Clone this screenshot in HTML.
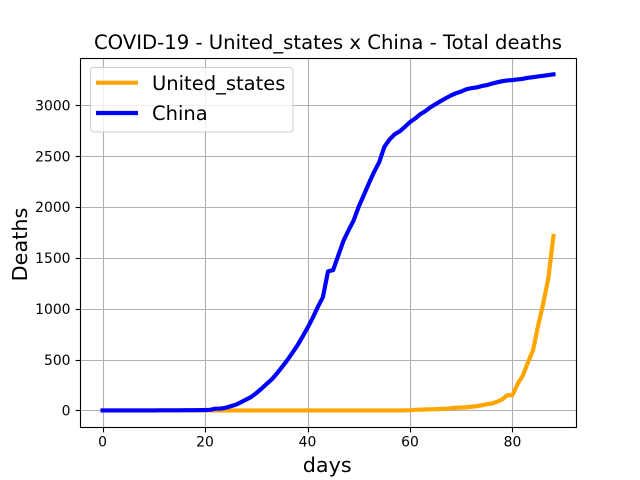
<!DOCTYPE html>
<html>
<head>
<meta charset="utf-8">
<title>COVID-19 - United_states x China - Total deaths</title>
<style>
html,body{margin:0;padding:0;background:#fff;}
svg{display:block;}
text{font-family:"DejaVu Sans",sans-serif;fill:#000;}
</style>
</head>
<body>
<svg id="chart" width="640" height="480" viewBox="0 0 640 480" xmlns="http://www.w3.org/2000/svg">
  <defs><clipPath id="plot-clip"><rect x="80" y="57.6" width="496" height="369.6"></rect></clipPath></defs>
  <rect x="0" y="0" width="640" height="480" fill="#fff"></rect>
  <g id="grid"></g>
  <g id="series" clip-path="url(#plot-clip)"></g>
  <g id="axes"></g>
  <text x="328" y="49" font-size="19.65" text-anchor="middle">COVID-19 - United_states x China - Total deaths</text>
  <text x="327.2" y="472" font-size="20.7" text-anchor="middle">days</text>
  <text transform="translate(27 244.5) rotate(-90)" font-size="20.8" text-anchor="middle">Deaths</text>
  <g>
    <rect x="90.5" y="67.5" width="202.5" height="64.5" rx="3" ry="3" fill="#fff" fill-opacity="0.8" stroke="#ccc" stroke-width="1"></rect>
    <line x1="96" y1="82.7" x2="138" y2="82.7" stroke="#ffa500" stroke-width="4.17"></line>
    <text x="152" y="90" font-size="19.5">United_states</text>
    <line x1="96" y1="113" x2="138" y2="113" stroke="#0000ff" stroke-width="4.17"></line>
    <text x="152" y="120" font-size="19.5">China</text>
  </g>
</svg>
<script>
var xTicks = [0, 20, 40, 60, 80];
var yTicks = [0, 500, 1000, 1500, 2000, 2500, 3000];
var unitedStates = [0,0,0,0,0,0,0,0,0,0,0,0,0,0,0,0,0,0,0,0,0,0,0,0,0,0,0,0,0,0,0,0,0,0,0,0,0,0,0,0,0,0,0,0,0,0,0,0,0,0,0,0,0,0,0,0,0,0,0,0,1,1,6,7,9,11,12,14,17,21,26,28,31,36,41,50,60,68,85,108,150,150,260,340,470,590,830,1050,1300,1715].slice(1);
var china = [0,0,0,0,0,0,0,0,0,0,0,1,1,1,1,1,2,2,2,3,3,6,17,18,26,41,56,80,106,132,170,213,259,304,361,425,490,563,636,722,811,908,1016,1113,1367,1380,1523,1665,1770,1868,2004,2118,2236,2345,2442,2592,2663,2715,2744,2788,2835,2870,2912,2943,2981,3012,3042,3070,3097,3119,3136,3158,3169,3176,3189,3199,3213,3226,3237,3245,3248,3255,3261,3270,3277,3284,3290,3297,3304];

var NS = 'http://www.w3.org/2000/svg';
var plotLeft = 80, plotRight = 576, plotTop = 57.6, plotBottom = 427.2;
var xMin = -4.4, xMax = 92.4, yMin = -165.2, yMax = 3469.2;

function xScale(v) { return plotLeft + (v - xMin) / (xMax - xMin) * (plotRight - plotLeft); }
function yScale(v) { return plotBottom - (v - yMin) / (yMax - yMin) * (plotBottom - plotTop); }
function snap(p) { return Math.round(p) + 0.5; }
function make(tag, attrs) {
  var el = document.createElementNS(NS, tag);
  for (var k in attrs) el.setAttribute(k, attrs[k]);
  return el;
}
var grid = document.getElementById('grid');
var axes = document.getElementById('axes');
var series = document.getElementById('series');

xTicks.forEach(function (t) {
  var x = snap(xScale(t));
  var g = make('line', {x1: x, x2: x, y1: plotTop, y2: plotBottom, stroke: '#b0b0b0', 'stroke-width': 1.1});
  
  
  grid.appendChild(g);
  var m = make('line', {x1: x, x2: x, y1: snap(plotBottom), y2: snap(plotBottom) + 4.9, stroke: '#000', 'stroke-width': 1.1});
  
  
  axes.appendChild(m);
  var l = make('text', {x: xScale(t), y: plotBottom + 19.5, 'font-size': 13.9, 'text-anchor': 'middle'});
  
  
  l.textContent = t;
  axes.appendChild(l);
});

yTicks.forEach(function (t) {
  var y = snap(yScale(t));
  var g = make('line', {x1: plotLeft, x2: plotRight, y1: y, y2: y, stroke: '#b0b0b0', 'stroke-width': 1.1});
  
  
  grid.appendChild(g);
  var m = make('line', {x1: snap(plotLeft) - 4.9, x2: snap(plotLeft), y1: y, y2: y, stroke: '#000', 'stroke-width': 1.1});
  
  
  axes.appendChild(m);
  var l = make('text', {x: plotLeft - 9.5, y: yScale(t) + 5.2, 'font-size': 13.9, 'text-anchor': 'end'});
  
  
  l.textContent = t;
  axes.appendChild(l);
});

function pathFrom(values) {
  return values.map(function (v, i) {
    return (i ? 'L' : 'M') + xScale(i).toFixed(2) + ' ' + yScale(v).toFixed(2);
  }).join(' ');
}
var usLine = make('path', {d: pathFrom(unitedStates), fill: 'none', stroke: '#ffa500', 'stroke-width': 4.17, 'stroke-linejoin': 'round', 'stroke-linecap': 'square'});


series.appendChild(usLine);
var chinaLine = make('path', {d: pathFrom(china), fill: 'none', stroke: '#0000ff', 'stroke-width': 4.17, 'stroke-linejoin': 'round', 'stroke-linecap': 'square'});


series.appendChild(chinaLine);

var fx1 = snap(plotLeft), fx2 = snap(plotRight), fy1 = snap(plotTop), fy2 = snap(plotBottom);
var frame = make('rect', {x: fx1, y: fy1, width: fx2 - fx1, height: fy2 - fy1, fill: 'none', stroke: '#000', 'stroke-width': 1.1});


axes.appendChild(frame);
</script>
</body>
</html>
